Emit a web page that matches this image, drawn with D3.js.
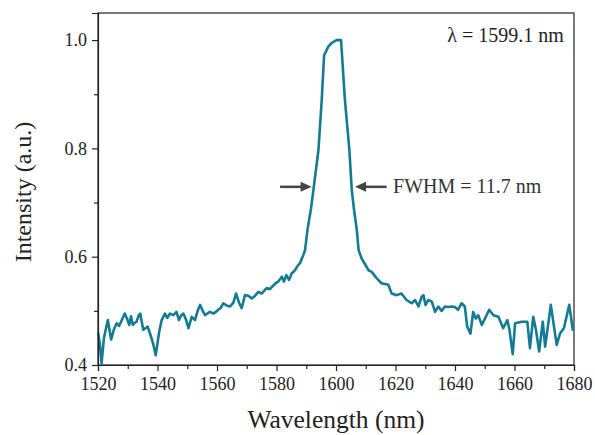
<!DOCTYPE html>
<html><head><meta charset="utf-8">
<script src="https://cdn.jsdelivr.net/npm/d3@7"></script>
<style>body{margin:0;background:#fff}svg{display:block}</style>
</head><body><svg id="c" width="595" height="435"></svg>
<script>
const wavelength = [1520.0,1520.6,1521.2,1522.0,1523.3,1524.4,1525.3,1526.3,1527.1,1528.0,1529.0,1529.8,1530.5,1531.1,1531.7,1532.4,1533.0,1533.7,1534.2,1535.2,1536.0,1536.7,1537.5,1538.5,1539.4,1540.0,1540.5,1541.4,1542.5,1543.3,1544.2,1545.3,1546.4,1547.2,1548.0,1548.7,1549.5,1550.4,1551.5,1552.6,1553.5,1554.3,1555.2,1556.0,1557.0,1557.6,1558.8,1559.6,1560.4,1561.2,1562.1,1563.2,1564.4,1565.5,1566.4,1567.4,1568.3,1569.4,1570.5,1571.7,1572.8,1573.9,1575.0,1576.0,1576.7,1577.8,1578.6,1579.7,1580.6,1581.8,1582.5,1583.3,1584.2,1585.1,1586.2,1587.2,1587.9,1589.0,1589.6,1590.4,1591.6,1592.4,1594.1,1595.2,1596.0,1597.4,1598.6,1600.2,1601.7,1603.0,1604.5,1605.3,1606.1,1607.0,1607.6,1608.6,1610.3,1610.9,1612.0,1613.7,1615.3,1617.6,1618.7,1620.4,1622.0,1623.7,1625.4,1626.6,1627.7,1628.8,1629.4,1630.1,1631.0,1632.2,1633.3,1634.4,1635.5,1636.6,1637.7,1638.9,1640.0,1641.0,1642.2,1643.3,1644.1,1645.2,1646.1,1647.0,1647.8,1649.0,1650.1,1651.5,1652.9,1654.6,1656.2,1657.6,1658.3,1659.4,1660.2,1662.4,1664.3,1665.2,1666.3,1667.2,1668.3,1669.5,1670.3,1672.2,1674.2,1675.3,1676.6,1678.4,1679.6,1680.0];
const intensity = [0.46,0.44,0.403,0.45,0.483,0.447,0.465,0.477,0.472,0.483,0.495,0.485,0.474,0.490,0.474,0.478,0.480,0.492,0.495,0.465,0.468,0.471,0.458,0.440,0.418,0.440,0.459,0.483,0.495,0.487,0.495,0.492,0.498,0.483,0.492,0.495,0.485,0.468,0.489,0.483,0.500,0.511,0.500,0.492,0.496,0.498,0.495,0.498,0.502,0.505,0.514,0.510,0.508,0.515,0.532,0.515,0.505,0.529,0.528,0.523,0.528,0.535,0.532,0.538,0.542,0.540,0.545,0.551,0.554,0.563,0.554,0.566,0.557,0.569,0.575,0.584,0.588,0.603,0.612,0.649,0.689,0.723,0.797,0.889,0.972,0.988,0.995,1.0,1.0,0.889,0.797,0.723,0.685,0.649,0.612,0.597,0.581,0.575,0.572,0.560,0.551,0.548,0.532,0.529,0.532,0.520,0.514,0.520,0.508,0.526,0.529,0.511,0.520,0.517,0.498,0.508,0.500,0.508,0.507,0.508,0.507,0.502,0.514,0.508,0.471,0.458,0.498,0.486,0.492,0.474,0.486,0.502,0.492,0.489,0.468,0.483,0.465,0.420,0.477,0.480,0.480,0.431,0.489,0.465,0.425,0.480,0.434,0.511,0.437,0.458,0.468,0.511,0.465,0.465];
const xTicks = [1520,1540,1560,1580,1600,1620,1640,1660,1680];
const xMinor = [1530,1550,1570,1590,1610,1630,1650,1670];
const yTicks = [0.4,0.6,0.8,1.0];
const yMinor = [0.5,0.7,0.9];
const peakLabel = "λ = 1599.1 nm";
const fwhmLabel = "FWHM = 11.7 nm";

const svg = d3.select("#c");
const L=98, R=574, T=13, B=365;
const x = d3.scaleLinear().domain([1520,1680]).range([L,R]);
const y = d3.scaleLinear().domain([0.4,1.05]).range([B,T]);
const font = "'Liberation Serif','Times New Roman',serif";

// frame
svg.append("rect").attr("x",L).attr("y",T).attr("width",R-L).attr("height",B-T)
  .attr("fill","none").attr("stroke","#222").attr("stroke-width",1.2);

// curve
const data = wavelength.map((w,i)=>[w,intensity[i]]);
svg.append("path").datum(data)
  .attr("fill","none").attr("stroke","#137b93").attr("stroke-width",2.6)
  .attr("stroke-linejoin","round")
  .attr("d", d3.line().x(d=>x(d[0])).y(d=>y(d[1])));

// x axis
svg.append("g").attr("transform",`translate(0,${B})`)
  .call(d3.axisBottom(x).tickValues(xTicks).tickFormat(d3.format("d")).tickSize(6).tickPadding(6));
svg.append("g").attr("transform",`translate(0,${B})`)
  .call(d3.axisBottom(x).tickValues(xMinor).tickFormat("").tickSize(4))
  .select(".domain").remove();
// y axis
svg.append("g").attr("transform",`translate(${L},0)`)
  .call(d3.axisLeft(y).tickValues(yTicks).tickFormat(d3.format(".1f")).tickSize(6).tickPadding(5));
svg.append("g").attr("transform",`translate(${L},0)`)
  .call(d3.axisLeft(y).tickValues(yMinor).tickFormat("").tickSize(4))
  .select(".domain").remove();
svg.selectAll(".tick line").attr("stroke","#222").attr("stroke-width",1.2);
svg.selectAll(".domain").attr("stroke","#222").attr("stroke-width",1.2);
svg.selectAll(".tick text").attr("font-family",font).attr("font-size",18).attr("fill","#222");

// axis titles
svg.append("text").attr("x",(L+R)/2).attr("y",428).attr("text-anchor","middle")
  .attr("font-family",font).attr("font-size",25.5).attr("fill","#222").text("Wavelength (nm)");
svg.append("text").attr("transform",`translate(31,${(T+B)/2+3}) rotate(-90)`).attr("text-anchor","middle")
  .attr("font-family",font).attr("font-size",24).attr("fill","#222").text("Intensity (a.u.)");

// annotations
svg.append("text").attr("x",x(1676.6)).attr("y",y(0.997)).attr("text-anchor","end")
  .attr("font-family",font).attr("font-size",20).attr("fill","#222").text(peakLabel);

const ay = y(0.729);
function arrow(fromX, toX){
  const dir = Math.sign(toX-fromX);
  svg.append("line").attr("x1",fromX).attr("x2",toX-dir*8).attr("y1",ay).attr("y2",ay)
    .attr("stroke","#444").attr("stroke-width",2.5);
  svg.append("path").attr("d",`M${toX},${ay} L${toX-dir*11},${ay-5} L${toX-dir*11},${ay+5} Z`).attr("fill","#444");
}
arrow(x(1581.2), x(1591.8));
arrow(x(1617.0), x(1606.4));
svg.append("text").attr("x",x(1619.2)).attr("y",y(0.718))
  .attr("font-family",font).attr("font-size",20).attr("fill","#333").text(fwhmLabel);
</script>
</body></html>
